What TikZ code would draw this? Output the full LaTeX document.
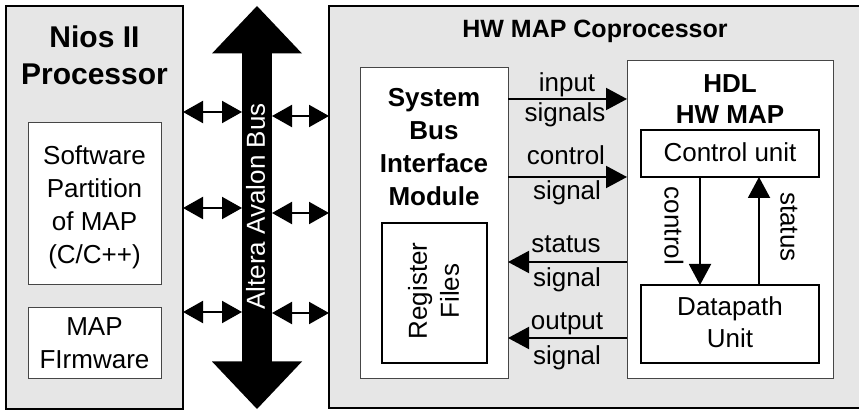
\documentclass[tikz,border=0pt]{standalone}
\usepackage{fontspec}
\setmainfont{Liberation Sans}
\usetikzlibrary{arrows.meta}
\definecolor{boxgray}{RGB}{230,230,230}
\definecolor{edgegray}{RGB}{70,70,70}
\begin{document}
\begin{tikzpicture}[x=1pt,y=-1pt,
  txt/.style={font=\fontsize{26}{33}\selectfont, inner sep=0pt, anchor=base},
  btxt/.style={font=\fontsize{26}{33}\selectfont\bfseries, inner sep=0pt, anchor=base},
  outerbox/.style={fill=boxgray, inner sep=0pt, outer sep=0pt, anchor=north west},
  thinbox/.style={draw=edgegray, line width=1pt, fill=white, inner sep=0pt, outer sep=0pt, anchor=north west},
  thickbox/.style={draw=black, line width=2pt, fill=white, inner sep=0pt, outer sep=0pt, anchor=north west},
  sig/.style={line width=2pt, -{Triangle[length=21pt,width=22pt]}},
  dbl/.style={line width=2pt, {Triangle[length=20pt,width=22pt]}-{Triangle[length=20pt,width=22pt]}},
]
\useasboundingbox[fill=white] (0,0) rectangle (859,411);

% Nios II processor
\node[outerbox, draw=black, line width=2pt, minimum width=177pt, minimum height=403pt] (nios) at (6,6) {};
\node[font=\fontsize{30}{36}\selectfont\bfseries, inner sep=0pt, anchor=base] (niosA) at (94.5,48) {Nios II};
\node[font=\fontsize{30}{36}\selectfont\bfseries, inner sep=0pt, anchor=base] (niosB) at (94.5,85) {Processor};
\node[thinbox, minimum width=133pt, minimum height=162pt] (sw) at (28,123) {};
\node[txt] (sw1) at (94.5,165) {Software};
\node[txt] (sw2) at (94.5,198) {Partition};
\node[txt] (sw3) at (94.5,231) {of MAP};
\node[txt] (sw4) at (94.5,264) {(C/C++)};
\node[thinbox, minimum width=133pt, minimum height=70pt] (fw) at (28,308) {};
\node[txt] (fw1) at (94.5,336) {MAP};
\node[txt] (fw2) at (94.5,368) {FIrmware};

% HW MAP coprocessor
\node[outerbox, minimum width=530pt, minimum height=402pt] (hw) at (329,6) {};
\draw[line width=2pt] (hw.north east) -- (hw.north west) -- (hw.south west) -- (hw.south east);
\node[font=\fontsize{25}{30}\selectfont\bfseries, inner sep=0pt, anchor=base] (hwt) at (595,38) {HW MAP Coprocessor};

\node[thinbox, minimum width=148pt, minimum height=310pt] (sbi) at (360,68) {};
\node[btxt] (sbi1) at (434,107) {System};
\node[btxt] (sbi2) at (434,140) {Bus};
\node[btxt] (sbi3) at (434,173) {Interface};
\node[btxt] (sbi4) at (434,206) {Module};
\node[thickbox, minimum width=105pt, minimum height=140pt] (reg) at (382,223) {};
\node[font=\fontsize{26}{32}\selectfont, inner sep=0pt, rotate=90, align=center] (regt) at (433.5,291) {Register\\Files};

\node[thinbox, minimum width=206pt, minimum height=317pt] (hdl) at (627,61) {};
\node[btxt] (hdl1) at (730,93) {HDL};
\node[btxt] (hdl2) at (730,124) {HW MAP};
\node[thickbox, minimum width=178pt, minimum height=47pt] (cu) at (641,130) {};
\node[txt] (cut) at (730,162) {Control unit};
\node[thickbox, minimum width=178pt, minimum height=78pt] (dp) at (641,285) {};
\node[txt] (dp1) at (730,316) {Datapath};
\node[txt] (dp2) at (730,348) {Unit};

\draw[sig] (cu.south -| 700,0) -- (dp.north -| 700,0);
\draw[sig] (dp.north -| 759,0) -- (cu.south -| 759,0);
\node[font=\fontsize{26}{33}\selectfont, inner sep=0pt, rotate=-90] (lc) at (674,226) {control};
\node[font=\fontsize{26}{33}\selectfont, inner sep=0pt, rotate=-90] (ls) at (789,227) {status};

% signals between interface and HDL
\draw[sig] (sbi.east |- 0,99) -- (hdl.west |- 0,99);
\draw[sig] (sbi.east |- 0,177) -- (hdl.west |- 0,177);
\draw[sig] (hdl.west |- 0,262) -- (sbi.east |- 0,262);
\draw[sig] (hdl.west |- 0,338) -- (sbi.east |- 0,338);
\node[txt] (s1a) at (567,92) {input};
\node[txt] (s1b) at (565,122) {signals};
\node[txt] (s2a) at (566,165) {control};
\node[txt] (s2b) at (567,200) {signal};
\node[txt] (s3a) at (566,253) {status};
\node[txt] (s3b) at (567,287) {signal};
\node[txt] (s4a) at (567,330) {output};
\node[txt] (s4b) at (567,365) {signal};

% Avalon bus
\node[fill=black, minimum width=30pt, minimum height=310pt, inner sep=0pt, outer sep=0pt] (bus) at (257,207.5) {};
\fill (212,53.5) -- (257,6) -- (302,53.5) -- cycle;
\fill (212,361.5) -- (257,409) -- (302,361.5) -- cycle;
\node[font=\fontsize{26}{33}\selectfont, text=white, inner sep=0pt, rotate=90] (busl) at (255.5,206.5) {Altera Avalon Bus};

% bus connections
\draw[dbl] (nios.east |- 0,112) -- (bus.west |- 0,112);
\draw[dbl] (nios.east |- 0,208) -- (bus.west |- 0,208);
\draw[dbl] (nios.east |- 0,312) -- (bus.west |- 0,312);
\draw[dbl] (bus.east |- 0,116) -- (hw.west |- 0,116);
\draw[dbl] (bus.east |- 0,213) -- (hw.west |- 0,213);
\draw[dbl] (bus.east |- 0,313) -- (hw.west |- 0,313);
\end{tikzpicture}
\end{document}
